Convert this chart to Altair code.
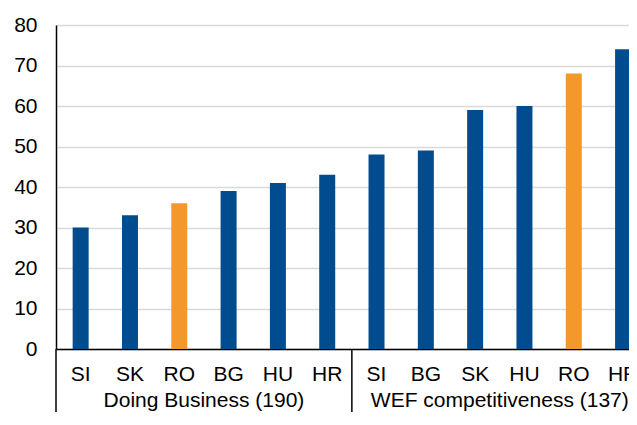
import altair as alt
import pandas as pd

groups = ["Doing Business (190)"] * 6 + ["WEF competitiveness (137)"] * 6
countries = ["SI", "SK", "RO", "BG", "HU", "HR", "SI", "BG", "SK", "HU", "RO", "HR"]
values = [30, 33, 36, 39, 41, 43, 48, 49, 59, 60, 68, 74]
group_names = ["Doing Business (190)", "WEF competitiveness (137)"]
group_centers = [2.5, 8.5]
separators = [-0.5, 5.5, 11.5]

df = pd.DataFrame({
    "pos": list(range(len(countries))),
    "country": countries,
    "group": groups,
    "value": values,
    "hl": ["RO" if c == "RO" else "other" for c in countries],
})
gdf = pd.DataFrame({"pos": group_centers, "group": group_names})
sdf = pd.DataFrame({"pos": separators})

FONT = "Liberation Sans"
H = 324
W = 573
xscale = alt.Scale(domain=[-0.5, 11.12], nice=False, zero=False, padding=0)

bars = alt.Chart(df).mark_bar(size=16).encode(
    x=alt.X("pos:Q", scale=xscale,
            axis=alt.Axis(labels=False, ticks=False, grid=False, title=None,
                          domainColor="black", domainWidth=1.5)),
    y=alt.Y("value:Q", scale=alt.Scale(domain=[0, 80], nice=False),
            axis=alt.Axis(values=list(range(0, 81, 10)), title=None,
                          ticks=False, labelPadding=19, labelFontSize=21,
                          labelFont=FONT, labelColor="black",
                          domainColor="black", domainWidth=1.5,
                          gridColor="#d9d9d9", gridWidth=1.5)),
    color=alt.Color("hl:N", scale=alt.Scale(domain=["other", "RO"],
                                            range=["#004C8F", "#F3982A"]),
                    legend=None),
)

cat_labels = alt.Chart(df).mark_text(fontSize=21, font=FONT, color="black",
                                     baseline="alphabetic").encode(
    x=alt.X("pos:Q", scale=xscale),
    y=alt.value(H + 32),
    text="country:N",
)

grp_labels = alt.Chart(gdf).mark_text(fontSize=21, font=FONT, color="black",
                                      baseline="alphabetic").encode(
    x=alt.X("pos:Q", scale=xscale),
    y=alt.value(H + 58),
    text="group:N",
)

seps = alt.Chart(sdf).mark_rule(color="black", strokeWidth=1.5).encode(
    x=alt.X("pos:Q", scale=xscale),
    y=alt.value(H),
    y2=alt.value(H + 100),
)

chart = alt.layer(bars, seps, cat_labels, grp_labels).properties(
    width=W, height=H,
    autosize=alt.AutoSizeParams(type="none"),
    padding={"left": 48, "top": 17, "right": 0, "bottom": 63},
).configure_view(stroke=None)

chart.save("out.html", embed_options={"renderer": "svg", "actions": False})
